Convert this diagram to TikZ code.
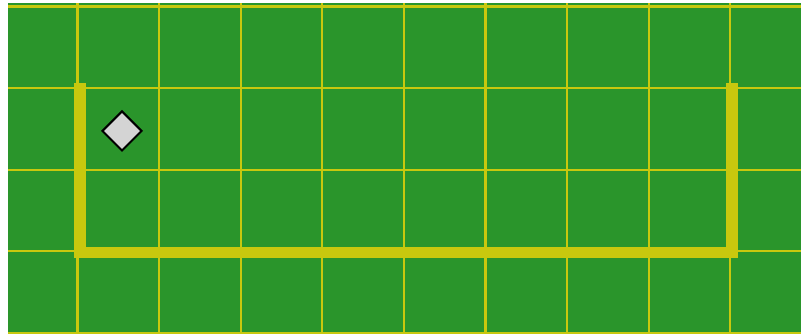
\documentclass[tikz,border=0pt]{standalone}
\usetikzlibrary{shapes.geometric}
\definecolor{fieldgreen}{RGB}{42,149,43}
\definecolor{lineyellow}{RGB}{200,200,14}
\definecolor{tokengray}{RGB}{212,212,212}
\tikzset{
    gridline/.style={lineyellow, line width=2.2pt},
    wallpath/.style={lineyellow, line width=11.5pt, line cap=rect, line join=miter},
    token/.style={diamond, draw=black, line width=2pt, fill=tokengray, minimum size=40pt, inner sep=0pt}
}
\begin{document}
\begin{tikzpicture}[x=1pt, y=-1pt]
        \useasboundingbox (0,0) rectangle (801,336);
        % Field
        \fill[fieldgreen] (8,3.5) rectangle (801,333);

        % Grid
        \foreach \i in {0,...,8}
            \draw[gridline] ({77.5+81.6*\i},3.5) -- ({77.5+81.6*\i},333);
        \foreach \j in {0,...,4}
            \draw[gridline] (8,{6.5+81.6*\j}) -- (801,{6.5+81.6*\j});

        % Wall
        \coordinate (wallA) at (80,88.5);
        \coordinate (wallB) at (80,252.3);
        \coordinate (wallC) at (732,252.3);
        \coordinate (wallD) at (732,88.5);
        \draw[wallpath] (wallA) -- (wallB) -- (wallC) -- (wallD);

        % Token
        \node[token] (gem) at (122,131) {};
\end{tikzpicture}
\end{document}
